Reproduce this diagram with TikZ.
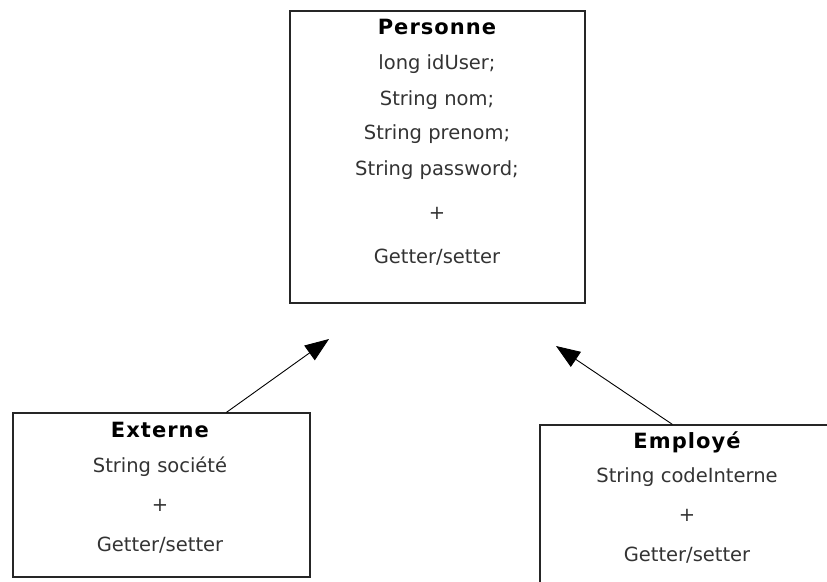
\documentclass[tikz,border=0pt]{standalone}
\usepackage{fontspec}
\setmainfont{DejaVu Sans}
\usetikzlibrary{arrows.meta,calc}
\begin{document}
\begin{tikzpicture}[x=1pt,y=-1pt,
  classbox/.style={draw=black!85, line width=1.2pt, inner sep=0pt, fill=none},
  lbl/.style={font=\fontsize{19.5}{21}\selectfont, text=black!80, inner sep=0pt, anchor=center},
  ttl/.style={font=\fontsize{21}{23}\selectfont\bfseries\addfontfeature{LetterSpace=5}, text=black, inner sep=0pt, anchor=center},
  inherit/.style={draw=black, line width=0.9pt, -{Triangle[length=24pt,width=18pt]}}]
\useasboundingbox (0,0) rectangle (827,581);
\clip (0,0) rectangle (827,581);
\fill[white] (0,0) rectangle (827,581);
% Personne
\node[classbox, minimum width=295pt, minimum height=292pt] (pers) at (437.5,157) {};
\node[ttl] (pt) at (437,27) {Personne};
\node[lbl] (p1) at (437,64) {long idUser;};
\node[lbl] (p2) at (437,100) {String nom;};
\node[lbl] (p3) at (437,134) {String prenom;};
\node[lbl] (p4) at (437,170) {String password;};
\node[lbl] (p5) at (437,213) {+};
\node[lbl] (p6) at (437,257) {Getter/setter};
% Externe
\node[classbox, minimum width=297pt, minimum height=164pt] (ext) at (161.5,495) {};
\node[ttl] (et) at (160,430) {Externe};
\node[lbl] (e1) at (160,467) {String société};
\node[lbl] (e2) at (160,505) {+};
\node[lbl] (e3) at (160,545) {Getter/setter};
% Employé
\node[classbox, minimum width=294pt, minimum height=180pt] (emp) at (687,515) {};
\node[ttl] (mt) at (687,442) {Employé};
\node[lbl] (m1) at (687,477) {String codeInterne};
\node[lbl] (m2) at (687,515) {+};
\node[lbl] (m3) at (687,555) {Getter/setter};
% arrows
\coordinate (a1) at (329,339);
\coordinate (a2) at (556,346);
\draw[inherit] ($(ext.north west)+(214,0)$) -- (a1);
\draw[inherit] ($(emp.north west)+(133,0)$) -- (a2);
\end{tikzpicture}
\end{document}
